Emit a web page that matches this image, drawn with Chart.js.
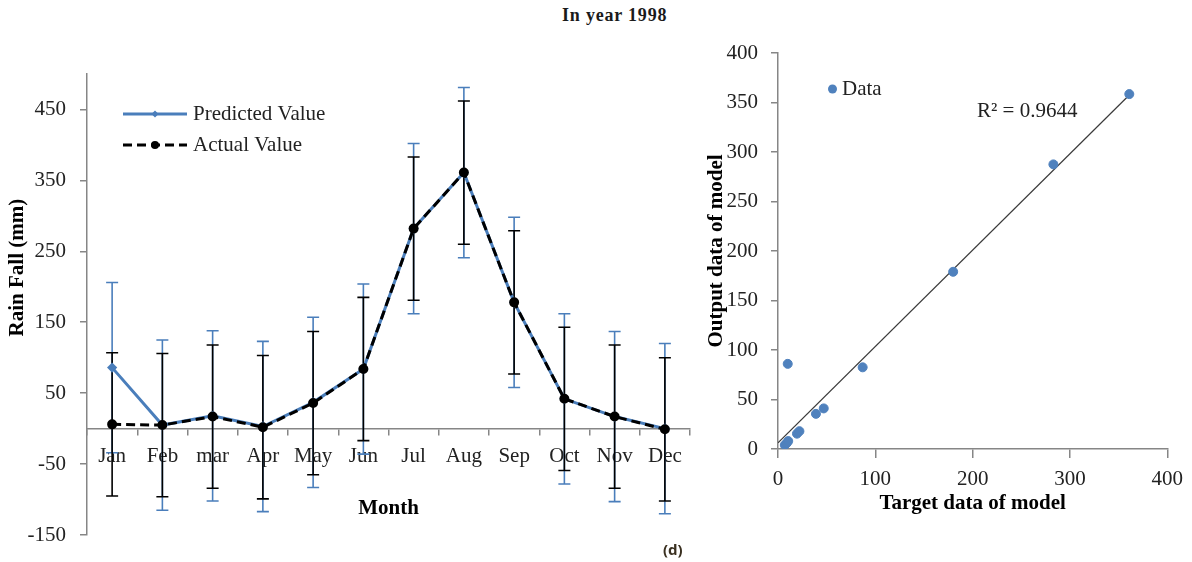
<!DOCTYPE html>
<html>
<head>
<meta charset="utf-8">
<title>In year 1998</title>
<script src="https://cdn.jsdelivr.net/npm/chart.js@4.4.1/dist/chart.umd.min.js"></script>
<style>
  html, body { margin: 0; padding: 0; background: #fff; overflow: hidden; }
  body { width: 1192px; height: 562px; position: relative; }
  #rainChart { position: absolute; left: 0; top: 0; }
  #fitChart { position: absolute; left: 700px; top: 0; }
  .caption { position: absolute; font-family: "Liberation Serif", serif; font-weight: bold; color: #1a1a1a; }
  #topTitle { left: 562px; top: 5px; font-size: 18px; letter-spacing: 0.8px; }
  #panelTag { left: 663px; top: 539px; font-size: 15px; font-family: "Noto Sans", sans-serif; color: #3a3020; }
</style>
</head>
<body>
<div id="topTitle" class="caption">In year 1998</div>
<canvas id="rainChart" width="700" height="562"></canvas>
<canvas id="fitChart" width="492" height="562"></canvas>
<div id="panelTag" class="caption">(d)</div>
<script>
// left panel: monthly rainfall
const months = ['Jan', 'Feb', 'mar', 'Apr', 'May', 'Jun', 'Jul', 'Aug', 'Sep', 'Oct', 'Nov', 'Dec'];
const predicted = [86, 5, 18, 3, 37, 84, 282, 361, 178, 42, 17, 0];
const actual = [6, 5, 17, 2, 36, 84, 282, 361, 178, 42, 17, -1];
const predictedErr = [120, 120, 120, 120, 120, 120, 120, 120, 120, 120, 120, 120];
const actualErr = [101, 101, 101, 101, 101, 101, 101, 101, 101, 101, 101, 101];
const rainTicks = [-150, -50, 50, 150, 250, 350, 450];

// right panel: target vs output
const targetData = [10, 7, 9, 10.5, 19.5, 22, 39, 47, 87, 180, 283, 361];
const outputData = [86, 4, 6, 8, 15.5, 18, 35.5, 41, 82.5, 179, 287.5, 358.5];
const fitTicks = [0, 50, 100, 150, 200, 250, 300, 350, 400];
const targetTicks = [0, 100, 200, 300, 400];

const SERIF = '"Liberation Serif", "Times New Roman", serif';
const AXIS_GREY = '#868686';
const BLUE = '#4A7EBB';
const DOT_BLUE = '#4F81BD';
const TEXT = '#222';

Chart.defaults.font.family = SERIF;
Chart.defaults.color = TEXT;

const errorBars = {
    id: 'errorBars',
    beforeDatasetsDraw(chart) {
        const ctx = chart.ctx;
        const y = chart.scales.y;
        chart.data.datasets.forEach((ds, i) => {
            if (!ds.errors) return;
            const meta = chart.getDatasetMeta(i);
            ctx.save();
            ctx.strokeStyle = ds.errorColor;
            ctx.lineWidth = 1.6;
            meta.data.forEach((pt, j) => {
                const top = y.getPixelForValue(ds.data[j] + ds.errors[j]);
                const bot = y.getPixelForValue(ds.data[j] - ds.errors[j]);
                ctx.beginPath();
                ctx.moveTo(pt.x, top);
                ctx.lineTo(pt.x, bot);
                ctx.moveTo(pt.x - 6, top);
                ctx.lineTo(pt.x + 6, top);
                ctx.moveTo(pt.x - 6, bot);
                ctx.lineTo(pt.x + 6, bot);
                ctx.stroke();
            });
            ctx.restore();
        });
    }
};

// legend inside the plot, Excel style
const rainLegend = {
    id: 'rainLegend',
    afterDraw(chart) {
        const ctx = chart.ctx;
        const area = chart.chartArea;
        const x0 = area.left + 36;
        const x1 = area.left + 100;
        ctx.save();
        ctx.font = '21px ' + SERIF;
        ctx.textBaseline = 'middle';
        ctx.fillStyle = TEXT;
        chart.data.datasets.forEach((ds, i) => {
            const yy = area.top + 40 + i * 31;
            ctx.strokeStyle = ds.borderColor;
            ctx.lineWidth = 3;
            ctx.setLineDash(ds.borderDash || []);
            ctx.beginPath();
            ctx.moveTo(x0, yy);
            ctx.lineTo(x1, yy);
            ctx.stroke();
            ctx.setLineDash([]);
            ctx.fillStyle = ds.pointBackgroundColor;
            const cx = (x0 + x1) / 2;
            ctx.beginPath();
            if (ds.pointStyle === 'rectRot') {
                ctx.moveTo(cx, yy - 3.5);
                ctx.lineTo(cx + 3.5, yy);
                ctx.lineTo(cx, yy + 3.5);
                ctx.lineTo(cx - 3.5, yy);
                ctx.closePath();
            } else {
                ctx.arc(cx, yy, 4, 0, Math.PI * 2);
            }
            ctx.fill();
            ctx.fillStyle = TEXT;
            ctx.fillText(ds.label, x1 + 6, yy);
        });
        ctx.restore();
    }
};

const rainYTitle = {
    id: 'rainYTitle',
    afterDraw(chart) {
        const ctx = chart.ctx;
        const area = chart.chartArea;
        ctx.save();
        ctx.translate(18, area.top + (area.bottom - area.top) * 0.42);
        ctx.rotate(-Math.PI / 2);
        ctx.font = 'bold 21px ' + SERIF;
        ctx.textAlign = 'center';
        ctx.textBaseline = 'middle';
        ctx.fillStyle = '#000';
        ctx.fillText('Rain Fall (mm)', 0, 0);
        ctx.restore();
    }
};

new Chart(document.getElementById('rainChart'), {
    type: 'line',
    data: {
        labels: months,
        datasets: [{
            label: 'Predicted Value',
            data: predicted,
            errors: predictedErr,
            errorColor: BLUE,
            borderColor: BLUE,
            backgroundColor: BLUE,
            pointBackgroundColor: BLUE,
            pointBorderColor: BLUE,
            pointStyle: 'rectRot',
            pointRadius: 3,
            borderWidth: 3,
            order: 1
        }, {
            label: 'Actual Value',
            data: actual,
            errors: actualErr,
            errorColor: '#000',
            borderColor: '#000',
            backgroundColor: '#000',
            pointBackgroundColor: '#000',
            pointBorderColor: '#000',
            pointStyle: 'circle',
            pointRadius: 3.5,
            borderWidth: 3,
            borderDash: [9, 5],
            order: 0
        }]
    },
    options: {
        responsive: false,
        animation: false,
        layout: { padding: { top: 74, right: 10, left: 0, bottom: 27 } },
        plugins: {
            legend: { display: false },
            tooltip: { enabled: false }
        },
        scales: {
            x: {
                position: { y: 0 },
                offset: true,
                afterFit: s => { s.height = 93; },
                border: { color: AXIS_GREY, width: 1.5 },
                grid: { drawOnChartArea: false, offset: true, tickLength: 6, color: AXIS_GREY, lineWidth: 1.5 },
                ticks: { font: { size: 21 }, color: TEXT, padding: 9, maxRotation: 0 },
                title: { display: true, text: 'Month', font: { size: 21, weight: 'bold' }, color: '#000', padding: 0 }
            },
            y: {
                min: -150,
                max: 500,
                afterBuildTicks: s => { s.ticks = rainTicks.map(v => ({ value: v })); },
                afterFit: s => { s.width = 87; },
                border: { color: AXIS_GREY, width: 1.5 },
                grid: { drawOnChartArea: false, tickLength: 7, color: AXIS_GREY, lineWidth: 1.5 },
                ticks: { font: { size: 21 }, color: TEXT, padding: 14 }
            }
        }
    },
    plugins: [errorBars, rainLegend, rainYTitle]
});

// least squares trend line through the scatter
function linearFit(xs, ys) {
    const n = xs.length;
    const mx = xs.reduce((a, b) => a + b, 0) / n;
    const my = ys.reduce((a, b) => a + b, 0) / n;
    let sxy = 0, sxx = 0;
    for (let i = 0; i < n; i++) {
        sxy += (xs[i] - mx) * (ys[i] - my);
        sxx += (xs[i] - mx) * (xs[i] - mx);
    }
    const slope = sxy / sxx;
    return { slope, intercept: my - slope * mx };
}
const fit = linearFit(targetData, outputData);
const maxTarget = Math.max(...targetData);
const trendPoints = [0, maxTarget].map(x => ({ x, y: fit.intercept + fit.slope * x }));

const fitNotes = {
    id: 'fitNotes',
    afterDraw(chart) {
        const ctx = chart.ctx;
        const area = chart.chartArea;
        ctx.save();
        ctx.font = '21px ' + SERIF;
        ctx.textBaseline = 'middle';
        ctx.fillStyle = DOT_BLUE;
        ctx.beginPath();
        ctx.arc(area.left + 54.5, area.top + 36, 4.5, 0, Math.PI * 2);
        ctx.fill();
        ctx.fillStyle = TEXT;
        ctx.fillText(chart.data.datasets[0].label, area.left + 64, area.top + 36);
        ctx.fillText('R\u00B2 = 0.9644', area.left + 199, area.top + 58);
        ctx.restore();
    }
};

new Chart(document.getElementById('fitChart'), {
    type: 'scatter',
    data: {
        datasets: [{
            label: 'Data',
            data: targetData.map((x, i) => ({ x, y: outputData[i] })),
            backgroundColor: DOT_BLUE,
            borderColor: DOT_BLUE,
            pointRadius: 4.5,
            order: 0
        }, {
            type: 'line',
            label: 'Linear (Data)',
            data: trendPoints,
            borderColor: '#3a3a3a',
            borderWidth: 1.2,
            pointRadius: 0,
            order: 1
        }]
    },
    options: {
        responsive: false,
        animation: false,
        layout: { padding: { top: 53, right: 24, bottom: 46, left: 0 } },
        plugins: {
            legend: { display: false },
            tooltip: { enabled: false }
        },
        scales: {
            x: {
                type: 'linear',
                min: 0,
                max: 400,
                afterBuildTicks: s => { s.ticks = targetTicks.map(v => ({ value: v })); },
                afterFit: s => { s.height = 67; },
                border: { color: AXIS_GREY, width: 1.5 },
                grid: { drawOnChartArea: false, tickLength: 9, color: AXIS_GREY, lineWidth: 1.5 },
                ticks: { font: { size: 21 }, color: TEXT, padding: 9 },
                title: { display: true, text: 'Target data of model', font: { size: 21, weight: 'bold' }, color: '#000', padding: 0 }
            },
            y: {
                min: 0,
                max: 400,
                afterBuildTicks: s => { s.ticks = fitTicks.map(v => ({ value: v })); },
                afterFit: s => { s.width = 78; },
                border: { color: AXIS_GREY, width: 1.5 },
                grid: { drawOnChartArea: false, tickLength: 7, color: AXIS_GREY, lineWidth: 1.5 },
                ticks: { font: { size: 21 }, color: TEXT, padding: 13 },
                title: { display: true, text: 'Output data of model', font: { size: 21, weight: 'bold' }, color: '#000', padding: { top: 4, bottom: 0 } }
            }
        }
    },
    plugins: [fitNotes]
});
</script>
</body>
</html>
